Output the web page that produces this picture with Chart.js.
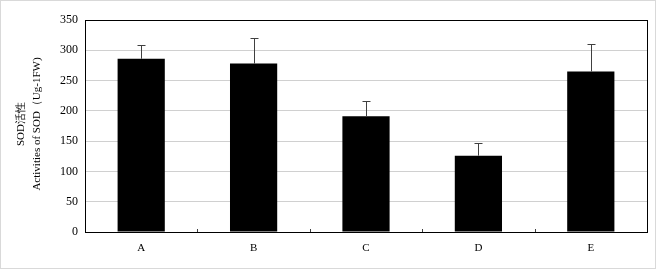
<!DOCTYPE html>
<html>
<head>
<meta charset="utf-8">
<script src="https://cdn.jsdelivr.net/npm/chart.js@4.4.1/dist/chart.umd.min.js"></script>
<style>
    html, body { margin: 0; padding: 0; background: #fff; }
    #wrap { position: relative; width: 656px; height: 269px; box-sizing: border-box; border: 1px solid #d9d9d9; }
    canvas { display: block; }
</style>
</head>
<body>
<div id="wrap"><canvas id="sod-chart" width="654" height="267"></canvas></div>
<script>
    "use strict";

    // Data
    const groups = ['A', 'B', 'C', 'D', 'E'];
    const sodValues = [286, 278, 191, 126, 265];
    const sodErrors = [22, 43, 25, 21, 46];
    const yTicks = [0, 50, 100, 150, 200, 250, 300, 350];
    const yTitleLines = ['SOD活性', 'Activities of SOD（Ug-1FW)'];

    const serif = "'Liberation Serif', 'Times New Roman', serif";

    // Upper error bars, drawn through the y scale
    const errorBars = {
        id: 'errorBars',
        afterDatasetsDraw(chart) {
            const ctx = chart.ctx;
            const meta = chart.getDatasetMeta(0);
            const y = chart.scales.y;
            ctx.save();
            ctx.strokeStyle = '#404040';
            ctx.lineWidth = 1;
            meta.data.forEach((bar, i) => {
                const x = Math.round(bar.x) + 0.5;
                const top = Math.round(y.getPixelForValue(sodValues[i] + sodErrors[i])) + 0.5;
                const base = y.getPixelForValue(sodValues[i]);
                ctx.beginPath();
                ctx.moveTo(x, base);
                ctx.lineTo(x, top);
                ctx.moveTo(x - 4, top);
                ctx.lineTo(x + 4, top);
                ctx.stroke();
            });
            ctx.restore();
        }
    };

    // Plot frame, category ticks and the two-line y title
    const frame = {
        id: 'frame',
        afterDraw(chart) {
            const ctx = chart.ctx;
            const a = chart.chartArea;
            const x = chart.scales.x;
            ctx.save();
            ctx.strokeStyle = '#000';
            ctx.lineWidth = 1;
            ctx.strokeRect(Math.round(a.left) + 0.5, Math.round(a.top) + 0.5,
                Math.round(a.right - a.left), Math.round(a.bottom - a.top));
            ctx.strokeStyle = '#404040';
            for (let i = 1; i < groups.length; i++) {
                const px = Math.round((x.getPixelForValue(i - 1) + x.getPixelForValue(i)) / 2) + 0.5;
                ctx.beginPath();
                ctx.moveTo(px, a.bottom);
                ctx.lineTo(px, a.bottom - 3);
                ctx.stroke();
            }
            ctx.fillStyle = '#000';
            ctx.font = '11px ' + serif;
            ctx.textAlign = 'center';
            ctx.textBaseline = 'middle';
            const cy = (a.top + a.bottom) / 2;
            [20, 36].forEach((cx, i) => {
                ctx.save();
                ctx.translate(cx, cy - 2);
                ctx.rotate(-Math.PI / 2);
                ctx.fillText(yTitleLines[i], 0, 0);
                ctx.restore();
            });
            ctx.restore();
        }
    };

    new Chart(document.getElementById('sod-chart').getContext('2d'), {
        type: 'bar',
        data: {
            labels: groups,
            datasets: [{
                data: sodValues,
                backgroundColor: '#000',
                borderColor: '#000',
                borderWidth: 0,
                categoryPercentage: 1,
                barPercentage: 0.42
            }]
        },
        options: {
            responsive: false,
            animation: false,
            devicePixelRatio: 1,
            layout: { padding: { left: 0, top: 19, right: 8, bottom: 0 } },
            plugins: {
                legend: { display: false },
                tooltip: { enabled: false }
            },
            scales: {
                x: {
                    grid: { display: false, drawTicks: false },
                    border: { display: false },
                    ticks: { color: '#000', font: { family: serif, size: 11 }, padding: 10 },
                    afterFit: (scale) => { scale.height = 36; }
                },
                y: {
                    min: 0,
                    max: 350,
                    afterBuildTicks: (scale) => { scale.ticks = yTicks.map(v => ({ value: v })); },
                    grid: { color: '#d0d0d0', lineWidth: 1, drawTicks: false },
                    border: { display: false },
                    ticks: { color: '#000', font: { family: serif, size: 12 }, padding: 7 },
                    afterFit: (scale) => { scale.width = 84; }
                }
            }
        },
        plugins: [errorBars, frame]
    });
</script>
</body>
</html>
